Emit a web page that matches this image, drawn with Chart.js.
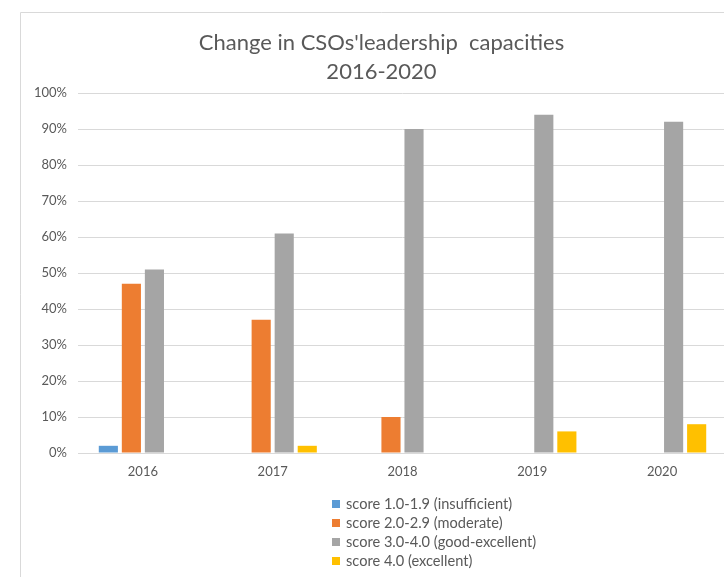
<!DOCTYPE html>
<html>
<head>
<meta charset="utf-8">
<title>Change in CSOs' leadership capacities</title>
<script src="https://cdn.jsdelivr.net/npm/chart.js@4/dist/chart.umd.min.js"></script>
<style>
  body { margin: 0; overflow: hidden; background: #fff; }
  #wrap { position: relative; width: 743px; height: 577px; }
  #legend {
    position: absolute; left: 332px; top: 494px;
    font-family: Lato, sans-serif; font-size: 14.6px; color: #595959;
  }
  #legend .item { display: flex; align-items: center; height: 19px; }
  #legend .box { width: 8px; height: 8px; margin-right: 6px; }
</style>
</head>
<body>
<div id="wrap">
  <canvas id="leadership" width="743" height="577"></canvas>
  <div id="legend"></div>
</div>
<script>
const years = ["2016", "2017", "2018", "2019", "2020"];
const seriesNames = [
  "score 1.0-1.9 (insufficient)",
  "score 2.0-2.9 (moderate)",
  "score 3.0-4.0 (good-excellent)",
  "score 4.0 (excellent)",
];
const insufficient = [2, 0, 0, 0, 0];
const moderate = [47, 37, 10, 0, 0];
const goodExcellent = [51, 61, 90, 94, 92];
const excellent = [0, 2, 0, 6, 8];
const colors = ["#5b9bd5", "#ed7d31", "#a5a5a5", "#ffc000"];

const textColor = "#595959";
const gridColor = "#d9d9d9";

// thin frame around the chart object
const frame = {
  id: "frame",
  beforeDraw(chart) {
    const ctx = chart.ctx;
    ctx.save();
    ctx.strokeStyle = gridColor;
    ctx.lineWidth = 1;
    ctx.beginPath();
    ctx.moveTo(20.5, chart.height);
    ctx.lineTo(20.5, 12.5);
    ctx.lineTo(chart.width, 12.5);
    ctx.stroke();
    ctx.restore();
  },
};

// legend as a vertical list under the plot
const htmlLegend = {
  id: "htmlLegend",
  afterUpdate(chart) {
    const box = document.getElementById("legend");
    box.innerHTML = "";
    const items = chart.options.plugins.legend.labels.generateLabels(chart);
    items.forEach((item) => {
      const row = document.createElement("div");
      row.className = "item";
      row.innerHTML = `<span class="box" style="background:${item.fillStyle}"></span><span>${item.text}</span>`;
      box.appendChild(row);
    });
  },
};

const values = [insufficient, moderate, goodExcellent, excellent];

new Chart(document.getElementById("leadership"), {
  type: "bar",
  data: {
    labels: years,
    datasets: seriesNames.map((name, i) => ({
      label: name,
      data: values[i],
      backgroundColor: colors[i],
      categoryPercentage: 0.71,
      barPercentage: 0.83,
    })),
  },
  options: {
    responsive: false,
    animation: false,
    layout: { padding: { left: 20, right: 0, top: 0, bottom: 0 } },
    plugins: {
      legend: { display: false },
      tooltip: { enabled: false },
      title: {
        display: true,
        text: ["Change in CSOs'leadership  capacities", "2016-2020"],
        color: textColor,
        font: { family: "Lato", size: 22, weight: "normal", lineHeight: 1.32 },
        padding: { top: 28, bottom: 7 },
      },
    },
    scales: {
      x: {
        grid: { display: false, drawTicks: false },
        border: { color: gridColor },
        ticks: { color: textColor, font: { family: "Lato", size: 13 }, padding: 11 },
        afterFit(scale) { scale.height = 124; },
      },
      y: {
        min: 0,
        max: 100,
        grid: { color: gridColor, drawTicks: false },
        border: { display: false },
        ticks: {
          stepSize: 10,
          color: textColor,
          font: { family: "Lato", size: 13 },
          padding: 11,
          callback: (v) => v + "%",
        },
        afterFit(scale) { scale.width = 58; },
      },
      spare: {
        position: "right",
        display: true,
        grid: { display: false, drawTicks: false },
        border: { display: false },
        ticks: { display: false },
        afterFit(scale) { scale.width = 16; },
      },
    },
  },
  plugins: [frame, htmlLegend],
});
</script>
</body>
</html>
